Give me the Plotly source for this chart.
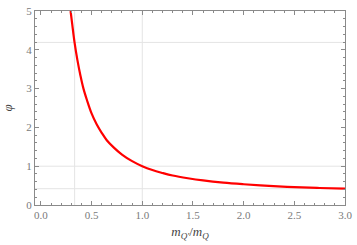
import plotly.graph_objects as go

# values
mass_ratio = [0.293, 0.31, 0.332, 0.36, 0.39, 0.42, 0.455, 0.50, 0.55, 0.60, 0.65,
              0.72, 0.80, 0.90, 1.00, 1.10, 1.20, 1.30, 1.45, 1.60, 1.80, 2.00,
              2.25, 2.50, 2.75, 3.00]
phi_values = [5.00, 4.64, 4.19, 3.74, 3.34, 3.00, 2.70, 2.36, 2.08, 1.86, 1.67,
              1.48, 1.30, 1.13, 1.00, 0.90, 0.825, 0.76, 0.69, 0.633, 0.576, 0.535,
              0.492, 0.46, 0.438, 0.42]
x_tick_vals = [0.0, 0.5, 1.0, 1.5, 2.0, 2.5, 3.0]
x_tick_text = ["0.0", "0.5", "1.0", "1.5", "2.0", "2.5", "3.0"]
y_tick_vals = [0, 1, 2, 3, 4, 5]
y_tick_text = ["0", "1", "2", "3", "4", "5"]
grid_x = [0.333, 1.0]
grid_y = [0.42, 1.0, 4.19]

SERIF = "Liberation Serif, Times New Roman, serif"

fig = go.Figure()
for gx in grid_x:
    fig.add_vline(x=gx, line=dict(color="#e4e4e4", width=1), layer="below")
for gy in grid_y:
    fig.add_hline(y=gy, line=dict(color="#e4e4e4", width=1), layer="below")

fig.add_trace(go.Scatter(x=mass_ratio, y=phi_values, mode="lines",
                         line=dict(color="#ff0000", width=2.2, shape="spline"),
                         showlegend=False, cliponaxis=True))

axis_common = dict(showgrid=False, zeroline=False, showline=True, linecolor="#8a8a8a",
                   linewidth=1, mirror="ticks", ticks="inside", ticklen=4,
                   tickcolor="#8a8a8a", tickwidth=1, ticklabeloverflow="allow",
                   tickfont=dict(family=SERIF, size=11, color="#7a7a7a"))

fig.update_xaxes(range=[-0.058, 3.0], tickvals=x_tick_vals, ticktext=x_tick_text,
                 minor=dict(ticks="inside", ticklen=2, dtick=0.1, tick0=0,
                            tickcolor="#8a8a8a", showgrid=False),
                 title=dict(text="<i>m</i><sub><i>Q'</i></sub>/<i>m</i><sub><i>Q</i></sub>",
                            font=dict(family=SERIF, size=13, color="#444444"),
                            standoff=6),
                 **axis_common)
fig.update_yaxes(range=[0, 5], tickvals=y_tick_vals, ticktext=y_tick_text,
                 minor=dict(ticks="inside", ticklen=2, dtick=0.2, tick0=0,
                            tickcolor="#8a8a8a", showgrid=False),
                 title=dict(text="<i>φ</i>",
                            font=dict(family=SERIF, size=13, color="#444444"),
                            standoff=12),
                 **axis_common)

fig.update_layout(width=357, height=245, margin=dict(l=33, r=8, t=5, b=40),
                  plot_bgcolor="white", paper_bgcolor="white")

fig.write_html("out.html", config={"displayModeBar": False},
               post_script="document.body.style.margin='0px';document.body.style.overflow='hidden';")
